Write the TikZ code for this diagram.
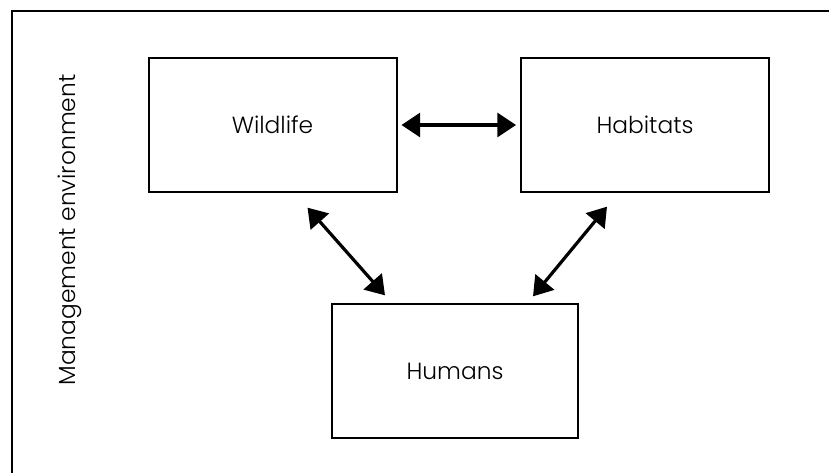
\documentclass[tikz,border=0pt]{standalone}
\usepackage{fontspec}
\setmainfont{Poppins}[UprightFont=* Light]
\usetikzlibrary{arrows.meta}
\tikzstyle{boxhead}=[>/.tip={Triangle[length=14pt,width=18pt]}]
\tikzstyle{area}=[draw,line width=1.5pt,minimum width=186pt,minimum height=100pt,font=\fontsize{17.5}{20}\selectfont]
\tikzstyle{link}=[line width=2.4pt,boxhead,<->]
\begin{document}
\begin{tikzpicture}[x=0.75pt,y=-0.75pt]
	\useasboundingbox (0,0) rectangle (829,473);
	\clip (0,0) rectangle (829,473);
	\draw[line width=1.8pt] (12,480) -- (12,11) -- (840,11);
	\node[rotate=90,font=\fontsize{17.5}{20}\selectfont] (env) at (70,230) {Management environment};
	\node[area] (wildlife) at (272.5,125) {Wildlife};
	\node[area] (habitats) at (645,125) {Habitats};
	\node[area,minimum width=184pt] (humans) at (455,371) {Humans};
	\draw[link] ([shift={(4,0)}]wildlife.east) -- ([shift={(-4,0)}]habitats.west);
	\draw[link] ([shift={(35,15)}]wildlife.south) -- ([shift={(-70,-8)}]humans.north);
	\draw[link] ([shift={(-38,14)}]habitats.south) -- ([shift={(78,-7)}]humans.north);
\end{tikzpicture}
\end{document}
